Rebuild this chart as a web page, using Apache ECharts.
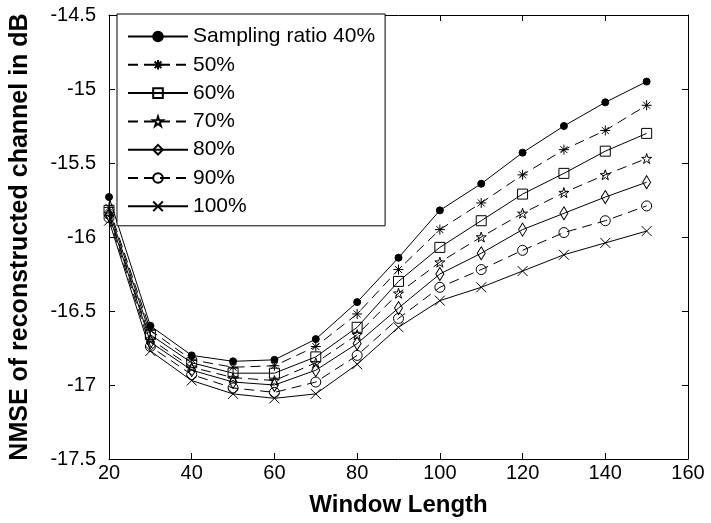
<!DOCTYPE html>
<html>
<head>
<meta charset="utf-8">
<script src="https://cdn.jsdelivr.net/npm/echarts@6/dist/echarts.min.js"></script>
<style>html,body{margin:0;padding:0;background:#fff;}#c{width:711px;height:523px;}</style>
</head>
<body>
<div id="c"></div>
<script>
var windowLengths = [20,30,40,50,60,70,80,90,100,110,120,130,140,150];
var seriesNames = ['Sampling ratio 40%','50%','60%','70%','80%','90%','100%'];
var r40  = [-15.73,-16.60,-16.80,-16.84,-16.83,-16.69,-16.44,-16.14,-15.82,-15.64,-15.43,-15.25,-15.09,-14.95];
var r50  = [-15.80,-16.63,-16.83,-16.88,-16.87,-16.74,-16.52,-16.22,-15.95,-15.77,-15.58,-15.41,-15.28,-15.11];
var r60  = [-15.82,-16.66,-16.85,-16.92,-16.92,-16.81,-16.61,-16.30,-16.07,-15.89,-15.71,-15.57,-15.42,-15.30];
var r70  = [-15.84,-16.69,-16.88,-16.95,-16.97,-16.85,-16.66,-16.38,-16.17,-16.00,-15.84,-15.70,-15.58,-15.47];
var r80  = [-15.85,-16.71,-16.90,-16.98,-17.00,-16.90,-16.72,-16.48,-16.25,-16.11,-15.95,-15.84,-15.73,-15.63];
var r90  = [-15.87,-16.74,-16.93,-17.02,-17.05,-16.98,-16.80,-16.55,-16.34,-16.22,-16.09,-15.97,-15.89,-15.79];
var r100 = [-15.89,-16.77,-16.97,-17.06,-17.09,-17.06,-16.86,-16.61,-16.43,-16.34,-16.23,-16.12,-16.04,-15.96];
var allValues = [r40, r50, r60, r70, r80, r90, r100];

var FONT = '"Liberation Sans", Arial, sans-serif';
var symbols = [
  {s:'circle', size:7, fill:'#000'},
  {s:'path://M5,0L5,10M0,5L10,5M1.5,1.5L8.5,8.5M8.5,1.5L1.5,8.5', size:10, fill:'transparent'},
  {s:'rect', size:10, fill:'transparent'},
  {s:'path://M5,0L6.2,3.6L10,3.6L6.9,5.9L8.1,9.5L5,7.3L1.9,9.5L3.1,5.9L0,3.6L3.8,3.6Z', size:10, fill:'transparent'},
  {s:'diamond', size:[8,13], fill:'transparent'},
  {s:'circle', size:10, fill:'transparent'},
  {s:'path://M0,0L10,10M10,0L0,10', size:10, fill:'transparent'}
];
var dashed = [false,true,false,true,false,true,false];

var series = allValues.map(function(vals, i){
  return {
    name: seriesNames[i],
    type: 'line',
    data: windowLengths.map(function(x, j){ return [x, vals[j]]; }),
    symbol: symbols[i].s,
    symbolSize: symbols[i].size,
    showAllSymbol: true,
    lineStyle: {color:'#000', width:1, type: dashed[i] ? [10,6] : 'solid'},
    itemStyle: {color: symbols[i].fill, borderColor:'#000', borderWidth:1},
    emphasis: {disabled:true},
    z: 2
  };
});

var axisCommon = {
  axisLine: {show:true, onZero:false, lineStyle:{color:'#000', width:1}},
  axisTick: {show:true, inside:true, length:6, lineStyle:{color:'#000'}},
  splitLine: {show:false}
};

var option = {
  animation: false,
  backgroundColor: '#fff',
  textStyle: {fontFamily: FONT},
  grid: {left:103, top:15, right:23, bottom:64, containLabel:false},
  legend: {
    orient: 'vertical',
    left: 117, top: 14,
    padding: [12, 10, 9, 10],
    itemWidth: 60, itemHeight: 12, itemGap: 7.3,
    backgroundColor: '#fff',
    borderColor: '#000', borderWidth: 1,
    textStyle: {fontFamily: FONT, fontSize: 21, color:'#000', lineHeight: 21},
    data: seriesNames,
    z: 10
  },
  xAxis: [
    Object.assign({
      type:'value', min:20, max:160, interval:20, position:'bottom',
      name:'Window Length', nameLocation:'middle', nameGap:34,
      nameTextStyle:{fontFamily:FONT, fontSize:24, fontWeight:'bold', color:'#000'},
      axisLabel:{fontFamily:FONT, fontSize:20, color:'#000', margin:4}
    }, axisCommon),
    Object.assign({
      type:'value', min:20, max:160, interval:20, position:'top',
      axisLabel:{show:false}
    }, axisCommon)
  ],
  yAxis: [
    Object.assign({
      type:'value', min:-17.5, max:-14.5, interval:0.5, position:'left',
      name:'NMSE of reconstructed channel in dB', nameLocation:'middle', nameGap:76,
      nameTextStyle:{fontFamily:FONT, fontSize:25, fontWeight:'bold', color:'#000'},
      axisLabel:{fontFamily:FONT, fontSize:20, color:'#000', margin:13}
    }, axisCommon),
    Object.assign({
      type:'value', min:-17.5, max:-14.5, interval:0.5, position:'right',
      axisLabel:{show:false}
    }, axisCommon)
  ],
  series: series
};

var chart = echarts.init(document.getElementById('c'), null, {renderer:'canvas'});
chart.setOption(option);
</script>
</body>
</html>
